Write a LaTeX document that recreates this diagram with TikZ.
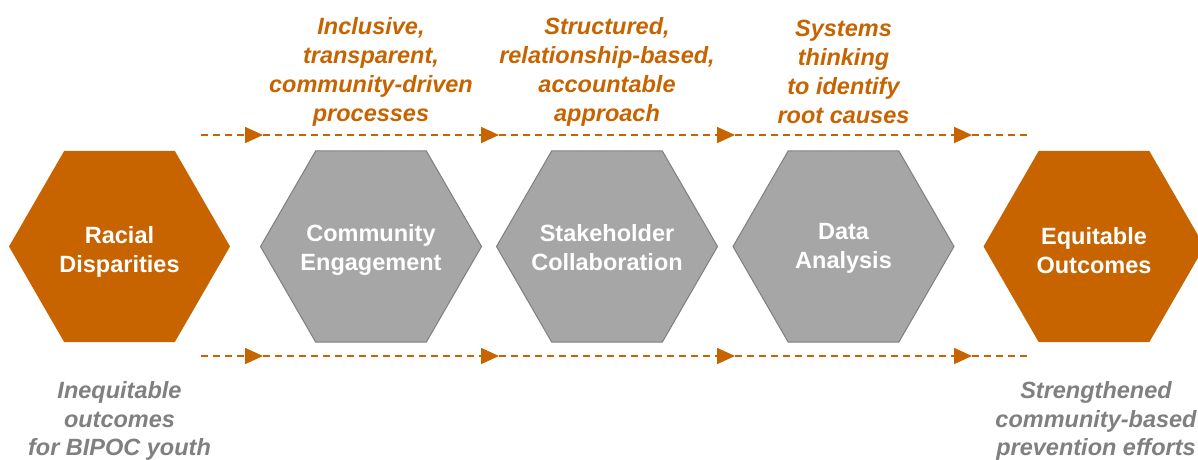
\documentclass[tikz,border=0pt]{standalone}
\usepackage{fontspec}
\setmainfont{Liberation Sans}
\usetikzlibrary{shapes.geometric,arrows.meta}
\definecolor{orng}{HTML}{C86400}
\definecolor{hexgrey}{HTML}{A6A6A6}
\definecolor{hexline}{HTML}{7F7F7F}
\definecolor{txtgrey}{HTML}{808080}
\tikzset{
  hexbase/.style={regular polygon, regular polygon sides=6, minimum size=221pt, inner sep=0pt},
  hextext/.style={align=center, text=white, font=\fontsize{23.5}{29}\selectfont\bfseries},
  hexorange/.style={hexbase, fill=orng, draw=none},
  hexgray/.style={hexbase, fill=hexgrey, draw=hexline, line width=1pt},
  toplabel/.style={align=center, text=orng, font=\fontsize{23.5}{29}\selectfont\bfseries\itshape},
  botlabel/.style={align=center, text=txtgrey, font=\fontsize{23.5}{28.5}\selectfont\bfseries\itshape},
  flow/.style={draw=orng, line width=1.8pt, dash pattern=on 7pt off 5pt, -{Triangle[length=18pt,width=16pt]}},
  flowend/.style={draw=orng, line width=1.8pt, dash pattern=on 7pt off 5pt}
}
\begin{document}
\begin{tikzpicture}[x=1pt,y=-1pt]
\useasboundingbox (0,0) rectangle (1198,459);
\clip (0,0) rectangle (1198,459);
\fill[white] (0,0) rectangle (1198,459);
% hexagons
\node[hexorange, label={[hextext,yshift=-5pt]center:Racial\\Disparities}] (racial) at (119.5,246.5) {};
\node[hexgray, label={[hextext,yshift=-3pt]center:Community\\Engagement}] (comm) at (371,246.5) {};
\node[hexgray, label={[hextext,yshift=-1pt]center:Stakeholder\\Collaboration}] (stake) at (607,246.5) {};
\node[hexgray, label={[hextext,yshift=-2pt]center:Data\\Analysis}] (data) at (843.5,246.5) {};
\node[hexorange, label={[hextext,yshift=-4pt]center:Equitable\\Outcomes}] (equit) at (1094,246.5) {};
% top labels
\node[toplabel] (l1) at (371,72) {Inclusive,\\transparent,\\community-driven\\processes};
\node[toplabel] (l2) at (607,72) {Structured,\\relationship-based,\\accountable\\approach};
\node[toplabel] (l3) at (843.5,72) {Systems\\thinking\\to identify\\root causes};
% bottom labels
\node[botlabel] (b1) at (119.5,421) {Inequitable\\outcomes\\for BIPOC youth};
\node[botlabel] (b2) at (1096,421) {Strengthened\\community-based\\prevention efforts};
% flow coordinates
\coordinate (ts) at (201,135);
\coordinate (t1) at (263,135);
\coordinate (t2) at (499,135);
\coordinate (t3) at (735,135);
\coordinate (t4) at (972,135);
\coordinate (te) at (1030,135);
\coordinate (bs) at (201,356);
\coordinate (b1c) at (263,356);
\coordinate (b2c) at (499,356);
\coordinate (b3c) at (735,356);
\coordinate (b4c) at (972,356);
\coordinate (be) at (1030,356);
\draw[flow] (ts) -- (t1);
\draw[flow] (t1) -- (t2);
\draw[flow] (t2) -- (t3);
\draw[flow] (t3) -- (t4);
\draw[flowend] (t4) -- (te);
\draw[flow] (bs) -- (b1c);
\draw[flow] (b1c) -- (b2c);
\draw[flow] (b2c) -- (b3c);
\draw[flow] (b3c) -- (b4c);
\draw[flowend] (b4c) -- (be);
\end{tikzpicture}
\end{document}
